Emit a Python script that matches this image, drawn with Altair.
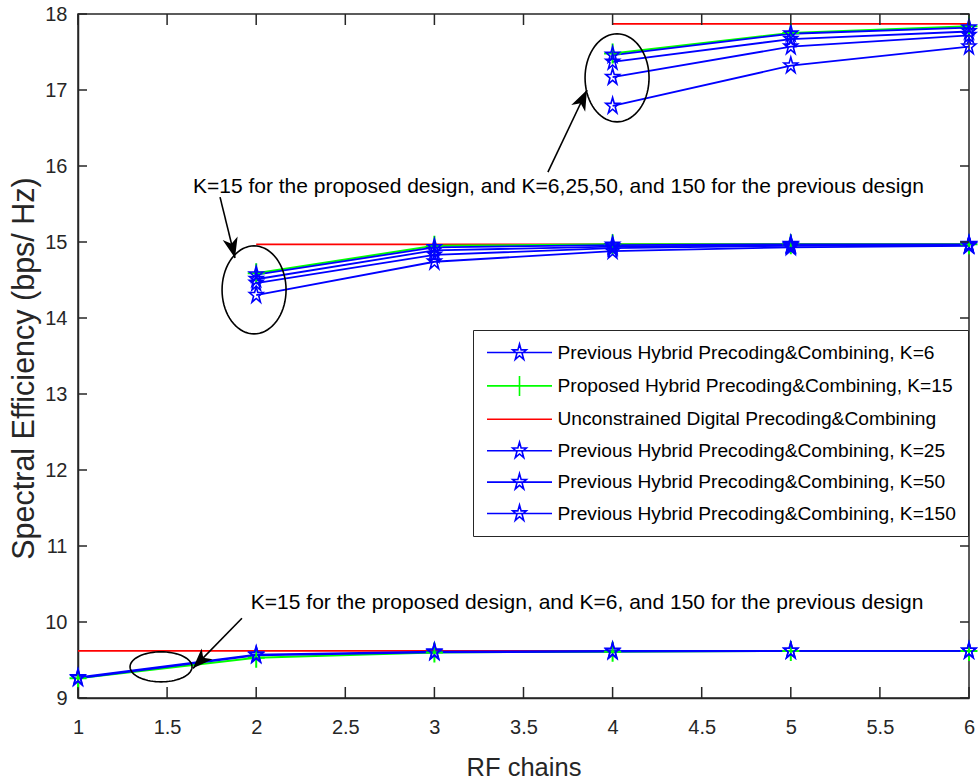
import math
import altair as alt
import pandas as pd

# ---------------------------------------------------------------------------
# Data: spectral efficiency (bps/Hz) versus number of RF chains
# ---------------------------------------------------------------------------
RF_LOW = [1, 2, 3, 4, 5, 6]
RF_MID = [2, 3, 4, 5, 6]
RF_HIGH = [4, 5, 6]

LOW_DIGITAL = [9.62, 9.62, 9.62, 9.62, 9.62, 9.62]
LOW_PROPOSED_K15 = [9.26, 9.53, 9.60, 9.61, 9.62, 9.62]
LOW_PREVIOUS_K6 = [9.26, 9.56, 9.60, 9.61, 9.62, 9.62]
LOW_PREVIOUS_K150 = [9.27, 9.57, 9.61, 9.62, 9.62, 9.62]

MID_DIGITAL = [14.97, 14.97, 14.97, 14.97, 14.97]
MID_PROPOSED_K15 = [14.59, 14.95, 14.97, 14.97, 14.97]
MID_PREVIOUS_K6 = [14.30, 14.74, 14.88, 14.93, 14.95]
MID_PREVIOUS_K25 = [14.46, 14.83, 14.92, 14.95, 14.96]
MID_PREVIOUS_K50 = [14.51, 14.89, 14.94, 14.96, 14.96]
MID_PREVIOUS_K150 = [14.57, 14.93, 14.96, 14.97, 14.97]

HIGH_DIGITAL = [17.87, 17.87, 17.87]
HIGH_PROPOSED_K15 = [17.48, 17.75, 17.84]
HIGH_PREVIOUS_K6 = [16.79, 17.32, 17.57]
HIGH_PREVIOUS_K25 = [17.17, 17.57, 17.72]
HIGH_PREVIOUS_K50 = [17.37, 17.67, 17.77]
HIGH_PREVIOUS_K150 = [17.46, 17.74, 17.82]

X_TICKS = [1, 1.5, 2, 2.5, 3, 3.5, 4, 4.5, 5, 5.5, 6]
Y_TICKS = [9, 10, 11, 12, 13, 14, 15, 16, 17, 18]

S_K6 = "Previous Hybrid Precoding&Combining, K=6"
S_PROP = "Proposed Hybrid Precoding&Combining, K=15"
S_DIG = "Unconstrained Digital Precoding&Combining"
S_K25 = "Previous Hybrid Precoding&Combining, K=25"
S_K50 = "Previous Hybrid Precoding&Combining, K=50"
S_K150 = "Previous Hybrid Precoding&Combining, K=150"
SERIES = [S_K6, S_PROP, S_DIG, S_K25, S_K50, S_K150]
SERIES_COLORS = ["#0000ff", "#00ff00", "#ff0000", "#0000ff", "#0000ff", "#0000ff"]

# Annotations (data coordinates)
NOTE_TEXT = [
    "K=15 for the proposed design, and K=6,25,50, and 150 for the previous design",
    "K=15 for the proposed design, and K=6, and 150 for the previous design",
]
NOTE_X = [1.645, 1.97]
NOTE_Y = [15.72, 10.25]

ELLIPSE_X = [4.025, 1.988, 1.466]
ELLIPSE_Y = [17.16, 14.37, 9.41]

ARROW_TAIL_X = [3.637, 1.797, 1.920]
ARROW_TAIL_Y = [15.92, 15.59, 10.05]
ARROW_TIP_X = [3.856, 1.881, 1.645]
ARROW_TIP_Y = [17.00, 14.79, 9.39]

# ---------------------------------------------------------------------------
# Layout and style
# ---------------------------------------------------------------------------
W, H = 891, 684
AXIS = "#262626"
FONT = "Liberation Sans, Arial, sans-serif"
ELLIPSE_RADII = [(32, 44), (32, 44), (31, 15)]  # pixels (rx, ry)


def star_path(sx, sy):
    pts = []
    for i in range(10):
        a = math.radians(-90 + 36 * i)
        r = 1.0 if i % 2 == 0 else 0.382
        pts.append((sx * r * math.cos(a), sy * r * math.sin(a)))
    return "M" + "L".join(f"{x:.4f},{y:.4f}" for x, y in pts) + "Z"


def ellipse_path(rx, ry, n=72):
    r = max(rx, ry)
    pts = [(rx / r * math.cos(2 * math.pi * i / n), ry / r * math.sin(2 * math.pi * i / n))
           for i in range(n)]
    return "M" + "L".join(f"{x:.4f},{y:.4f}" for x, y in pts) + "Z", (2 * r) ** 2


STAR = star_path(0.85, 1.0)
PLUS = "M-0.85,0L0.85,0M0,-1L0,1"
ARROW_HEAD = "M0,0L0.55,1.45L0,1.05L-0.55,1.45Z"

# Legend symbols: a 65 px line segment with the series marker on top.
# Symbol scale unit is sqrt(size)/2 = 10 px.
LEG_UNIT = 10.0
LEG_LINE = f"M{-32.5 / LEG_UNIT:.3f},0L{32.5 / LEG_UNIT:.3f},0"
LEG_STAR = LEG_LINE + star_path(0.85 * 8.5 / LEG_UNIT, 8.5 / LEG_UNIT)
LEG_PLUS = LEG_LINE + f"M0,{-10 / LEG_UNIT:.3f}L0,{10 / LEG_UNIT:.3f}"
LEG_SHAPES = [LEG_STAR, LEG_PLUS, LEG_LINE, LEG_STAR, LEG_STAR, LEG_STAR]

# ---------------------------------------------------------------------------
# Tables
# ---------------------------------------------------------------------------
rows = []


def add(group, series, xs, ys):
    for x, y in zip(xs, ys):
        rows.append({"x": x, "y": y, "series": series, "line": f"{group}|{series}"})


add("low", S_DIG, RF_LOW, LOW_DIGITAL)
add("low", S_PROP, RF_LOW, LOW_PROPOSED_K15)
add("low", S_K6, RF_LOW, LOW_PREVIOUS_K6)
add("low", S_K150, RF_LOW, LOW_PREVIOUS_K150)
add("mid", S_DIG, RF_MID, MID_DIGITAL)
add("mid", S_PROP, RF_MID, MID_PROPOSED_K15)
add("mid", S_K6, RF_MID, MID_PREVIOUS_K6)
add("mid", S_K25, RF_MID, MID_PREVIOUS_K25)
add("mid", S_K50, RF_MID, MID_PREVIOUS_K50)
add("mid", S_K150, RF_MID, MID_PREVIOUS_K150)
add("high", S_DIG, RF_HIGH, HIGH_DIGITAL)
add("high", S_PROP, RF_HIGH, HIGH_PROPOSED_K15)
add("high", S_K6, RF_HIGH, HIGH_PREVIOUS_K6)
add("high", S_K25, RF_HIGH, HIGH_PREVIOUS_K25)
add("high", S_K50, RF_HIGH, HIGH_PREVIOUS_K50)
add("high", S_K150, RF_HIGH, HIGH_PREVIOUS_K150)
df = pd.DataFrame(rows)

red_df = df[df.series == S_DIG]
green_df = df[df.series == S_PROP]
blue_df = df[~df.series.isin([S_DIG, S_PROP])]

px_x, px_y = W / 5.0, H / 9.0
angles = []
for tx, ty, hx, hy in zip(ARROW_TAIL_X, ARROW_TAIL_Y, ARROW_TIP_X, ARROW_TIP_Y):
    dx = (hx - tx) * px_x
    dy = -(hy - ty) * px_y
    angles.append(math.degrees(math.atan2(dx, -dy)) % 360)
arrow_df = pd.DataFrame({"x": ARROW_TIP_X, "y": ARROW_TIP_Y,
                         "x2": ARROW_TAIL_X, "y2": ARROW_TAIL_Y, "angle": angles})
note_df = pd.DataFrame({"x": NOTE_X, "y": NOTE_Y, "text": NOTE_TEXT})
# one clipped (off-scale) entry per series; it only feeds the legend
legend_df = pd.DataFrame({"x": [0] * len(SERIES), "y": [0] * len(SERIES), "series": SERIES})

# ---------------------------------------------------------------------------
# Encodings
# ---------------------------------------------------------------------------
X_SCALE = alt.Scale(domain=[1, 6], nice=False, zero=False)
Y_SCALE = alt.Scale(domain=[9, 18], nice=False, zero=False)

X_AXIS = alt.Axis(
    values=X_TICKS, format="~g", ticks=False, grid=False,
    labelFont=FONT, labelFontSize=20, labelColor=AXIS, labelPadding=19,
    labelFlush=False, labelOverlap=False,
    domainColor=AXIS, domainWidth=1.5,
    title="RF chains", titleFont=FONT, titleFontSize=25.5, titleFontWeight="normal",
    titleColor=AXIS, titleY=69, titleBaseline="middle",
)
Y_AXIS = alt.Axis(
    values=Y_TICKS, format="d", ticks=False, grid=False,
    labelFont=FONT, labelFontSize=20, labelColor=AXIS, labelPadding=11,
    labelFlush=False, labelOverlap=False,
    domainColor=AXIS, domainWidth=1.5,
    title="Spectral Efficiency (bps/ Hz)", titleFont=FONT, titleFontSize=30.5,
    titleFontWeight="normal", titleColor=AXIS, titleX=-54, titleY=354,
    titleAlign="center", titleBaseline="middle", titleAngle=270,
)

X_ENC = alt.X("x:Q", scale=X_SCALE, axis=X_AXIS)
Y_ENC = alt.Y("y:Q", scale=Y_SCALE, axis=Y_AXIS)

LEGEND = alt.Legend(
    orient="none", legendX=395, legendY=316,
    symbolSize=(2 * LEG_UNIT) ** 2, symbolStrokeWidth=1.6, symbolFillColor="transparent",
    symbolOffset=24, labelOffset=27,
    labelFont=FONT, labelFontSize=19.2, labelColor="#000000", labelLimit=700,
    rowPadding=8.4, padding=11.5,
    strokeColor=AXIS, fillColor="#ffffff",
)


def lines(data, color, width):
    return alt.Chart(data).mark_line(color=color, strokeWidth=width).encode(
        x=X_ENC, y=Y_ENC, detail="line:N", order="x:Q")


layers = [
    lines(red_df, "#ff0000", 1.7),
    lines(green_df, "#00ff00", 2.0),
    lines(blue_df, "#0000ff", 1.8),
    alt.Chart(green_df).mark_point(shape=PLUS, size=400, stroke="#00ff00",
                                   strokeWidth=2, filled=False, opacity=1).encode(x=X_ENC, y=Y_ENC),
    alt.Chart(blue_df).mark_point(shape=STAR, size=289, stroke="#0000ff",
                                  strokeWidth=1.6, filled=False, opacity=1).encode(x=X_ENC, y=Y_ENC),
]

for ex, ey, (rx, ry) in zip(ELLIPSE_X, ELLIPSE_Y, ELLIPSE_RADII):
    path, size = ellipse_path(rx, ry)
    layers.append(
        alt.Chart(pd.DataFrame({"x": [ex], "y": [ey]})).mark_point(
            shape=path, size=size, stroke="#000000", strokeWidth=1.6,
            filled=False, opacity=1).encode(x=X_ENC, y=Y_ENC)
    )

layers += [
    alt.Chart(arrow_df).mark_rule(color="#000000", strokeWidth=1.6).encode(
        x=X_ENC, y=Y_ENC, x2="x2:Q", y2="y2:Q"),
    alt.Chart(arrow_df).mark_point(shape=ARROW_HEAD, size=784, fill="#000000",
                                   filled=True, opacity=1, strokeWidth=0).encode(
        x=X_ENC, y=Y_ENC, angle=alt.Angle("angle:Q", scale=None)),
    alt.Chart(note_df).mark_text(font=FONT, fontSize=21, color="#000000",
                                 align="left", baseline="middle").encode(
        x=X_ENC, y=Y_ENC, text="text:N"),
    alt.Chart(legend_df).mark_point(clip=True, filled=False, opacity=1).encode(
        x=X_ENC, y=Y_ENC,
        color=alt.Color("series:N", title=None, legend=LEGEND,
                        scale=alt.Scale(domain=SERIES, range=SERIES_COLORS)),
        shape=alt.Shape("series:N", title=None, legend=LEGEND,
                        scale=alt.Scale(domain=SERIES, range=LEG_SHAPES)),
    ),
]

# Inward-pointing tick marks on all four sides of the box
xt = pd.DataFrame({"x": X_TICKS})
yt = pd.DataFrame({"y": Y_TICKS})
layers += [
    alt.Chart(xt).mark_rule(color=AXIS, strokeWidth=1.5).encode(
        x=X_ENC, y=alt.value(H), y2=alt.value(H - 11)),
    alt.Chart(xt).mark_rule(color=AXIS, strokeWidth=1.5).encode(
        x=X_ENC, y=alt.value(0), y2=alt.value(11)),
    alt.Chart(yt).mark_rule(color=AXIS, strokeWidth=1.5).encode(
        y=Y_ENC, x=alt.value(0), x2=alt.value(9)),
    alt.Chart(yt).mark_rule(color=AXIS, strokeWidth=1.5).encode(
        y=Y_ENC, x=alt.value(W), x2=alt.value(W - 9)),
]

chart = (
    alt.layer(*layers)
    .properties(width=W, height=H, autosize=alt.AutoSizeParams(type="none"),
                padding={"left": 78, "top": 14, "right": 10, "bottom": 86},
                background="#ffffff")
    .configure_view(stroke=AXIS, strokeWidth=1.5)
)

chart.save("out.html", embed_options={"renderer": "svg", "actions": False})
